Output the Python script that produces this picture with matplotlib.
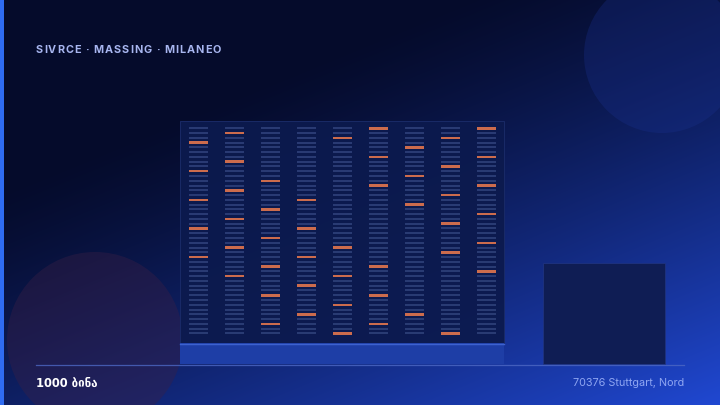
import numpy as np
import matplotlib
matplotlib.use("Agg")
import matplotlib.pyplot as plt
from matplotlib.patches import Circle, Rectangle
from matplotlib.font_manager import FontProperties

W, H = 720, 405

# ---------------------------------------------------------------- data
TITLE = "SIVRCE · MASSING · MILANEO"
LABEL_LEFT = "1000 ბინა"
LABEL_RIGHT = "70376 Stuttgart, Nord"
N_FLOORS = 44
N_COLS = 9
# lit (orange) windows: floor index from the top, per column
LIT = [
    [3, 9, 15, 21, 27],
    [1, 7, 13, 19, 25, 31],
    [11, 17, 23, 29, 35, 41],
    [15, 21, 27, 33, 39],
    [2, 25, 31, 37, 43],
    [0, 6, 12, 29, 35, 41],
    [4, 10, 16, 39],
    [2, 8, 14, 20, 26, 43],
    [0, 6, 12, 18, 24, 30],
]

# ---------------------------------------------------------------- layout
TOWER = (180, 121, 504, 343)      # x0, y0, x1, y1 (pixels, y down)
PODIUM_Y1 = 364
ANNEX = (543, 263, 665, 364)
COL_X0, COL_DX, WIN_W = 198, 36, 19
ROW_Y0, ROW_DY = 128.3, 4.77
TITLE_X0, TITLE_X1 = 36, 221

fig = plt.figure(figsize=(7.2, 4.05), dpi=100)
ax = fig.add_axes([0, 0, 1, 1])
ax.set_xlim(0, W)
ax.set_ylim(H, 0)
ax.axis("off")

# background gradient
yy, xx = np.mgrid[0:H, 0:W]
t = np.clip((0.55 * xx / W + 0.75 * yy / H - 0.35) / 0.95, 0, 1) ** 1.25
c0 = np.array([0x05, 0x0b, 0x2b]) / 255
c1 = np.array([0x20, 0x48, 0xd2]) / 255
img = c0 + (c1 - c0) * t[..., None]
ax.imshow(img, extent=(0, W, H, 0), zorder=0, aspect="auto")

# decorative circles
ax.add_patch(Circle((662, 55), 78, fc="#1a3190", alpha=0.3, ec="none", zorder=1))
ax.add_patch(Circle((95, 340), 88, fc="#3a1f45", alpha=0.4, ec="none", zorder=1))

# left accent bar
ax.add_patch(Rectangle((0, 0), 4, H, fc="#2f6cf2", ec="none", zorder=6))

# tower body
x0, y0, x1, y1 = TOWER
ax.add_patch(Rectangle((x0, y0), x1 - x0, y1 - y0, fc="#0c1a4e", ec="#1a2b68",
                       lw=0.7, alpha=0.95, zorder=2))
# podium
ax.add_patch(Rectangle((x0, y1), x1 - x0, PODIUM_Y1 - y1, fc="#1e3ea6", ec="none", zorder=2))
ax.plot([x0, x1], [y1 + 0.5, y1 + 0.5], color="#3d62cf", lw=1.0, zorder=3)
# annex
ax0, ay0, ax1, ay1 = ANNEX
ax.add_patch(Rectangle((ax0, ay0), ax1 - ax0, ay1 - ay0, fc="#0f1d54", ec="#1f3380",
                       lw=0.6, zorder=2))

# windows
floors = np.arange(N_FLOORS)
for c in range(N_COLS):
    xc = COL_X0 + c * COL_DX
    lit = set(LIT[c])
    dark = np.array([f for f in floors if f not in lit])
    on = np.array([f for f in floors if f in lit])
    ax.bar(np.full(len(dark), xc), 2.0, width=WIN_W,
           bottom=ROW_Y0 + dark * ROW_DY - 1.0,
           color="#2f417a", alpha=0.85, lw=0, zorder=4)
    ax.bar(np.full(len(on), xc), 2.5, width=WIN_W,
           bottom=ROW_Y0 + on * ROW_DY - 1.25,
           color="#cc6c4d", lw=0, zorder=5)

# ground line
ax.plot([36, 684], [364.5, 364.5], color="#4d68c4", lw=0.9, alpha=0.8, zorder=6)

# title with letter spacing
fp = FontProperties(family=["Inter", "DejaVu Sans"], weight="bold", size=7.8)
renderer = fig.canvas.get_renderer()


def advance(s):
    w, _, _ = renderer.get_text_width_height_descent(s, fp, ismath=False)
    return w


ref = advance("II")
advs = [advance("I" + ch + "I") - ref for ch in TITLE]
track = (TITLE_X1 - TITLE_X0 - sum(advs[:-1]) - advance(TITLE[-1])) / (len(TITLE) - 1)
x = TITLE_X0
for ch, a in zip(TITLE, advs):
    ax.text(x, 50, ch, fontproperties=fp, color="#a8b6f0", va="center", ha="left", zorder=7)
    x += a + track

ax.text(36, 383, LABEL_LEFT, fontsize=8.3, weight="bold", color="white",
        family="DejaVu Sans", va="center", ha="left", zorder=7)
ax.text(684, 383, LABEL_RIGHT, fontsize=7.8, color="#8fa6f2",
        family=["Inter", "DejaVu Sans"], va="center", ha="right", zorder=7)

fig.savefig("out.png", dpi=100)
